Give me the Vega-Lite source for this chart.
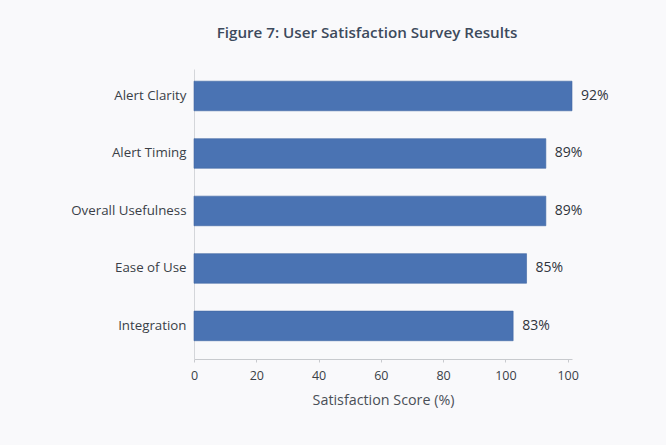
{
  "$schema": "https://vega.github.io/schema/vega-lite/v6.json",
  "width": 378,
  "height": 290,
  "autosize": "none",
  "padding": {"left": 194, "top": 69, "right": 94, "bottom": 87},
  "background": "#f9f9fb",
  "title": {
    "text": "Figure 7: User Satisfaction Survey Results",
    "font": "Open Sans",
    "fontSize": 15.2,
    "fontWeight": 600,
    "color": "#3d4a5c",
    "anchor": "middle",
    "dx": -16,
    "offset": 28
  },
  "data": {
    "values": [
      {"category": "Alert Clarity", "bar": 121.4, "label": "92%"},
      {"category": "Alert Timing", "bar": 113.0, "label": "89%"},
      {"category": "Overall Usefulness", "bar": 113.0, "label": "89%"},
      {"category": "Ease of Use", "bar": 106.8, "label": "85%"},
      {"category": "Integration", "bar": 102.5, "label": "83%"}
    ]
  },
  "encoding": {
    "y": {
      "field": "category",
      "type": "nominal",
      "sort": null,
      "scale": {"paddingInner": 0.485, "paddingOuter": 0.265, "align": 0.4},
      "axis": {
        "title": null,
        "ticks": false,
        "labelPadding": 8,
        "labelFont": "Open Sans",
        "labelFontSize": 13.3,
        "labelColor": "#3a3f47",
        "domainColor": "#d4d6da"
      }
    },
    "x": {
      "field": "bar",
      "type": "quantitative",
      "scale": {"domain": [0, 121.4], "nice": false},
      "axis": {
        "values": [0, 20, 40, 60, 80, 100, 120],
        "labelExpr": "datum.value == 120 ? '100' : datum.label",
        "labelFlush": false,
        "title": "Satisfaction Score (%)",
        "titleFont": "Open Sans",
        "titleFontSize": 14.3,
        "titleFontWeight": "normal",
        "titleColor": "#4a4f57",
        "titlePadding": 12,
        "labelFont": "Open Sans",
        "labelFontSize": 12.5,
        "labelColor": "#3a3f47",
        "labelPadding": 7,
        "tickSize": 3,
        "tickColor": "#c8cace",
        "domainColor": "#c8cace",
        "grid": false
      }
    }
  },
  "layer": [
    {
      "mark": {"type": "bar", "color": "#4a73b3", "stroke": "#3f66a3", "strokeWidth": 0.6}
    },
    {
      "mark": {"type": "text", "align": "left", "dx": 9, "font": "Open Sans", "fontSize": 14, "color": "#2f343b"},
      "encoding": {"text": {"field": "label"}}
    }
  ],
  "config": {"view": {"stroke": null}}
}
